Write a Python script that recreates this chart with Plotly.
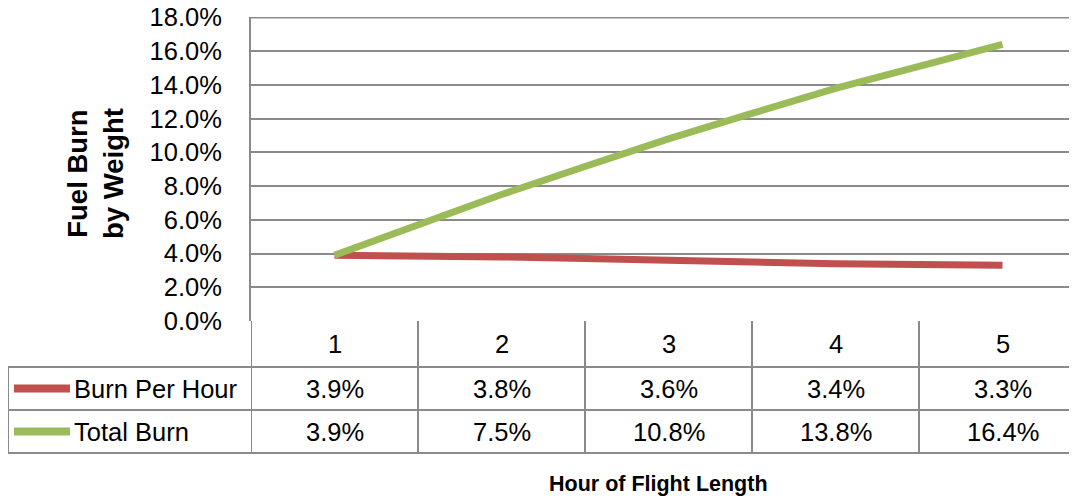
import plotly.graph_objects as go

hours = [1, 2, 3, 4, 5]
burn_per_hour = [0.039, 0.038, 0.036, 0.034, 0.033]
total_burn = [0.039, 0.075, 0.108, 0.138, 0.164]
series_names = ["Burn Per Hour", "Total Burn"]
series_colors = ["#C0504D", "#9BBB59"]
y_title = "Fuel Burn<br>by Weight"
x_title = "Hour of Flight Length"
y_max = 0.18

W, H = 1077, 499
OX, OY = 8, 8                    # page body offset
L, T, B = 251 - OX, 17 - OY, 321 - OY   # plot area pixel edges (figure coords)
PW = W - L
PH = B - T
CAT_W = 167.0
FONT = "Liberation Sans, Arial, sans-serif"
GRID = "#8a8a8a"

def py(pix_y):
    return (B - (pix_y - OY)) / PH

def px(pix_x):
    return ((pix_x - OX) - L) / PW

x0 = 0.5
x1 = x0 + PW / CAT_W

fig = go.Figure()
for name, vals, col in zip(series_names, [burn_per_hour, total_burn], series_colors):
    fig.add_trace(go.Scatter(x=hours, y=vals, mode="lines", name=name,
                             line=dict(color=col, width=7, shape="spline", smoothing=0.3),
                             showlegend=False))

shapes = []
annotations = []
# top border of plot area (gridline at the axis maximum)
shapes.append(dict(type="line", xref="paper", yref="y", x0=0, x1=1, y0=y_max, y1=y_max,
                   line=dict(color=GRID, width=2), layer="below"))
row_lines = [367, 410, 453]
for ry in row_lines:
    shapes.append(dict(type="line", xref="paper", yref="paper", x0=px(8), x1=1.2,
                       y0=py(ry), y1=py(ry), line=dict(color=GRID, width=2)))
for i in range(len(hours) + 1):
    shapes.append(dict(type="line", xref="x", yref="paper", x0=i + 0.5, x1=i + 0.5,
                       y0=0, y1=py(row_lines[-1]), line=dict(color=GRID, width=2)))
shapes.append(dict(type="line", xref="paper", yref="paper", x0=px(8), x1=px(8),
                   y0=py(row_lines[0]), y1=py(row_lines[-1]), line=dict(color=GRID, width=2)))

TF = dict(size=25.5, color="black", family=FONT)
for h in hours:
    annotations.append(dict(x=h, y=py(344), xref="x", yref="paper", xanchor="center",
                            yanchor="middle", text=str(h), showarrow=False, font=TF))
row_centers = [(row_lines[0] + row_lines[1]) / 2, (row_lines[1] + row_lines[2]) / 2]
for rc, name, vals, col in zip(row_centers, series_names, [burn_per_hour, total_burn], series_colors):
    shapes.append(dict(type="line", xref="paper", yref="paper", x0=px(14), x1=px(70),
                       y0=py(rc), y1=py(rc), line=dict(color=col, width=8)))
    annotations.append(dict(x=px(72), y=py(rc), xref="paper", yref="paper", xanchor="left",
                            yanchor="middle", text=name, showarrow=False, font=TF))
    for h, v in zip(hours, vals):
        annotations.append(dict(x=h, y=py(rc), xref="x", yref="paper", xanchor="center",
                                yanchor="middle", text=f"{v:.1%}", showarrow=False, font=TF))

annotations.append(dict(x=px(95), y=py(174), xref="paper", yref="paper", text=y_title,
                        xanchor="center", yanchor="middle", textangle=-90, showarrow=False,
                        font=dict(size=27.5, color="black", family=FONT, weight="bold")))
annotations.append(dict(x=px(658), y=py(484), xref="paper", yref="paper", text=x_title,
                        xanchor="center", yanchor="middle", showarrow=False,
                        font=dict(size=21.5, color="black", family=FONT, weight="bold")))

fig.update_layout(
    width=W, height=H,
    margin=dict(l=L, r=0, t=T, b=H - B, autoexpand=False),
    paper_bgcolor="white", plot_bgcolor="white",
    shapes=shapes, annotations=annotations,
    xaxis=dict(range=[x0, x1], showticklabels=False, showgrid=False, zeroline=False,
               showline=False, fixedrange=True),
    yaxis=dict(range=[0, y_max + 0.0003], dtick=0.02, tick0=0, tickformat=".1%", showgrid=True,
               gridcolor=GRID, gridwidth=2, zeroline=False, showline=True,
               linecolor=GRID, linewidth=2, ticks="", ticklabelstandoff=22,
               ticklabeloverflow="allow",
               tickfont=dict(size=25.5, color="black", family=FONT)),
)

fig.write_html("out.html")
